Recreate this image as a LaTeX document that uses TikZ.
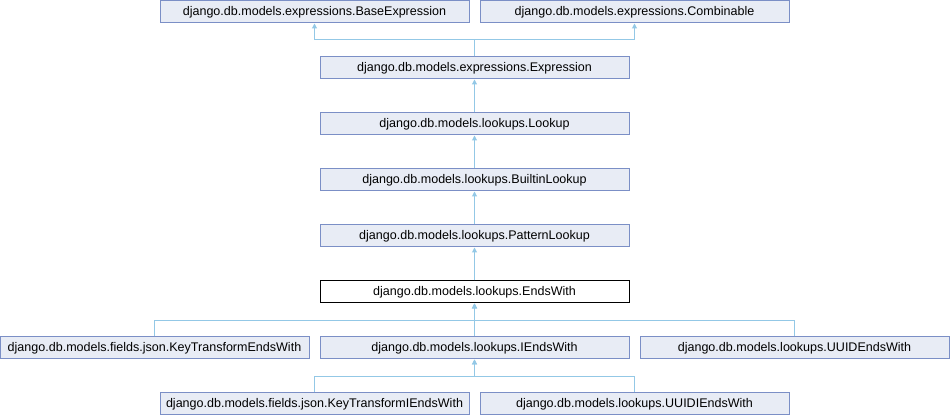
\documentclass[tikz,border=0pt]{standalone}
\usepackage{fontspec}
\setmainfont{Liberation Sans}
\usetikzlibrary{arrows.meta}
\definecolor{boxfill}{HTML}{E8ECF5}
\definecolor{boxdraw}{HTML}{7B8FC6}
\definecolor{edgecol}{HTML}{93C8E6}
\tikzset{
  cls/.style={draw=boxdraw, fill=boxfill, line width=0.75pt, inner sep=0pt,
    minimum width=231.75pt, minimum height=16.5pt,
    font=\fontsize{9.4pt}{11pt}\selectfont},
  cur/.style={cls, draw=black, fill=white},
  edge/.style={draw=edgecol, line width=0.75pt,
    -{Triangle[width=3.6pt,length=3.6pt,fill=edgecol]}},
}
\begin{document}
\begin{tikzpicture}[x=0.75pt,y=-0.75pt]
\useasboundingbox (0,0) rectangle (950,416);
\node[cls] (base) at (314.5,12) {django.db.models.expressions.BaseExpression};
\node[cls] (comb) at (634.5,12) {django.db.models.expressions.Combinable};
\node[cls] (expr) at (474.5,68) {django.db.models.expressions.Expression};
\node[cls] (lookup) at (474.5,124) {django.db.models.lookups.Lookup};
\node[cls] (builtin) at (474.5,180) {django.db.models.lookups.BuiltinLookup};
\node[cls] (pattern) at (474.5,236) {django.db.models.lookups.PatternLookup};
\node[cur] (ends) at (474.5,292) {django.db.models.lookups.EndsWith};
\node[cls] (keyt) at (154.5,348) {django.db.models.fields.json.KeyTransformEndsWith};
\node[cls] (iends) at (474.5,348) {django.db.models.lookups.IEndsWith};
\node[cls] (uuid) at (794.5,348) {django.db.models.lookups.UUIDEndsWith};
\node[cls] (keyti) at (314.5,404) {django.db.models.fields.json.KeyTransformIEndsWith};
\node[cls] (uuidi) at (634.5,404) {django.db.models.lookups.UUIDIEndsWith};
\draw[edge] (expr.north) -- ++(0,-17) -| (base.south);
\draw[edge] (expr.north) -- ++(0,-17) -| (comb.south);
\draw[edge] (lookup.north) -- (expr.south);
\draw[edge] (builtin.north) -- (lookup.south);
\draw[edge] (pattern.north) -- (builtin.south);
\draw[edge] (ends.north) -- (pattern.south);
\draw[edge] (keyt.north) -- ++(0,-16) -| (ends.south);
\draw[edge] (iends.north) -- (ends.south);
\draw[edge] (uuid.north) -- ++(0,-16) -| (ends.south);
\draw[edge] (keyti.north) -- ++(0,-16) -| (iends.south);
\draw[edge] (uuidi.north) -- ++(0,-16) -| (iends.south);
\end{tikzpicture}
\end{document}
